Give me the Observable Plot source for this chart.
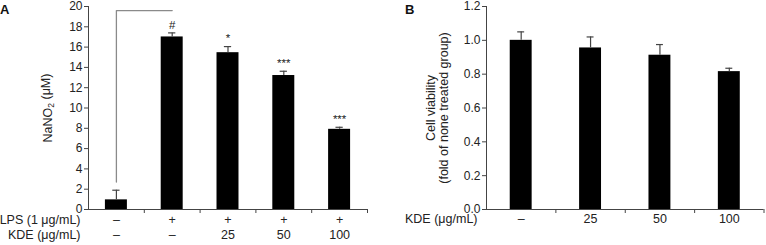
<!DOCTYPE html>
<html>
<head>
<meta charset="utf-8">
<script src="https://cdn.jsdelivr.net/npm/d3@7"></script>
<script src="https://cdn.jsdelivr.net/npm/@observablehq/plot@0.6"></script>
<style>
  html, body { margin: 0; padding: 0; background: #fff; }
  #wrap { position: relative; width: 766px; height: 245px; font-family: "Liberation Sans", Arial, sans-serif; }
  .panel { position: absolute; top: 0; }
  .letter { position: absolute; font-weight: bold; font-size: 13px; color: #111; }
</style>
</head>
<body>
<div id="wrap">
  <div class="panel" id="pa" style="left:0px"></div>
  <div class="panel" id="pb" style="left:395px"></div>
  <div class="letter" style="left:0px;top:2px">A</div>
  <div class="letter" style="left:405px;top:2px">B</div>
</div>
<script>
// ---- Panel A data ----
const lpsRow = ["–", "+", "+", "+", "+"];
const kdeRowA = ["–", "–", "25", "50", "100"];
const nano2 = [0.95, 17.0, 15.45, 13.2, 7.9];
const nano2Err = [0.95, 0.4, 0.6, 0.42, 0.2];
const sigA = ["", "#", "*", "***", "***"];
const yTicksA = [0, 2, 4, 6, 8, 10, 12, 14, 16, 18, 20];
const bracketA = [{g: 0, v: 2.7}, {g: 0, v: 19.6}, {g: 1, v: 19.6}];

// ---- Panel B data ----
const kdeRowB = ["–", "25", "50", "100"];
const viability = [1.0, 0.955, 0.912, 0.815];
const viabilityErr = [0.05, 0.065, 0.063, 0.02];
const yTicksB = [0, 0.2, 0.4, 0.6, 0.8, 1.0, 1.2];

const FONT = "'Liberation Sans', Arial, sans-serif";
const AX = "#444";

function panel({values, errs, sig, rows, rowLabels, yTicks, yMax, tickFmt, yLabel, labelDx, width, marginLeft, marginRight, halfBar, halfCap, bracket, rowDx, rowDys}) {
  const n = values.length;
  const data = values.map((v, i) => ({i, c: i + 0.5, v, e: v + errs[i], s: sig ? sig[i] : ""}));
  const marks = [
    Plot.rectY(data, {x1: d => d.c - halfBar, x2: d => d.c + halfBar, y1: 0, y2: "v", fill: "#000"}),
    Plot.ruleX(data, {x: "c", y1: "v", y2: "e", stroke: AX, strokeWidth: 1.2}),
    Plot.ruleY(data, {x1: d => d.c - halfCap, x2: d => d.c + halfCap, y: "e", stroke: AX, strokeWidth: 1.2}),
    Plot.ruleY([0], {stroke: AX}),
    Plot.ruleX([0], {y1: 0, y2: yMax, stroke: AX}),
    Plot.axisY({ticks: yTicks, tickSize: 4, tickPadding: 2, tickFormat: tickFmt, label: null, stroke: AX, fontSize: 12}),
    Plot.axisX({ticks: d3.range(1, n + 1), tickSize: 4, tickFormat: () => "", label: null, stroke: AX}),
    Plot.text([yLabel], {frameAnchor: "left", textAnchor: "middle", text: d => d, rotate: -90, dx: labelDx, fontSize: 12.5, lineHeight: 1.0, className: "ylab"})
  ];
  if (sig) {
    marks.push(Plot.text(data, {x: "c", y: "e", text: "s", dy: -8, fontSize: 11.5}));
  }
  if (bracket) {
    marks.push(Plot.line(bracket, {x: d => d.g + 0.5, y: "v", stroke: "#8a8a8a", strokeWidth: 1.3}));
  }
  rows.forEach((row, r) => {
    const dy = rowDys[r];
    marks.push(Plot.text(row.map((t, i) => ({t, c: i + 0.5})), {x: "c", text: "t", frameAnchor: "bottom", dy, fontSize: 12.5}));
    marks.push(Plot.text([rowLabels[r]], {text: d => d, frameAnchor: "bottom-left", textAnchor: "end", dx: rowDx, dy, fontSize: 12.5}));
  });
  return Plot.plot({
    width, height: 245,
    marginLeft, marginRight, marginTop: 6, marginBottom: 36,
    x: {type: "linear", domain: [0, n], axis: null},
    y: {domain: [0, yMax], axis: null},
    style: {fontFamily: FONT, fontSize: "12px", color: "#222", background: "white", overflow: "visible"},
    marks
  });
}

const svgA = panel({
  values: nano2, errs: nano2Err, sig: sigA,
  rows: [lpsRow, kdeRowA], rowLabels: ["LPS (1 μg/mL)", "KDE (μg/mL)"],
  yTicks: yTicksA, yMax: 20, tickFmt: d3.format("d"),
  yLabel: "NaNO₂ (μM)", labelDx: -41,
  width: 395, marginLeft: 88, marginRight: 28,
  halfBar: 0.197, halfCap: 0.065, bracket: bracketA, rowDx: -8, rowDys: [14, 29]
});
document.getElementById("pa").appendChild(svgA);

// render the subscript 2 of NaNO2 as a smaller, lowered glyph
d3.select(svgA).selectAll("g.ylab text").each(function () {
  const t = d3.select(this);
  const s = t.text();
  const k = s.indexOf("₂");
  if (k < 0) return;
  t.text(null);
  t.append("tspan").text(s.slice(0, k));
  t.append("tspan").attr("font-size", "8.5px").attr("dy", "0.3em").text("2");
  t.append("tspan").attr("dy", "-0.3em").text(s.slice(k + 1));
});

document.getElementById("pb").appendChild(panel({
  values: viability, errs: viabilityErr, sig: null,
  rows: [kdeRowB], rowLabels: ["KDE (μg/mL)"],
  yTicks: yTicksB, yMax: 1.2, tickFmt: d3.format(".1f"),
  yLabel: "Cell viability\n(fold of none treated group)", labelDx: -49,
  width: 371, marginLeft: 91, marginRight: 2.5,
  halfBar: 0.158, halfCap: 0.05, bracket: null, rowDx: -9, rowDys: [13]
}));
</script>
</body>
</html>
